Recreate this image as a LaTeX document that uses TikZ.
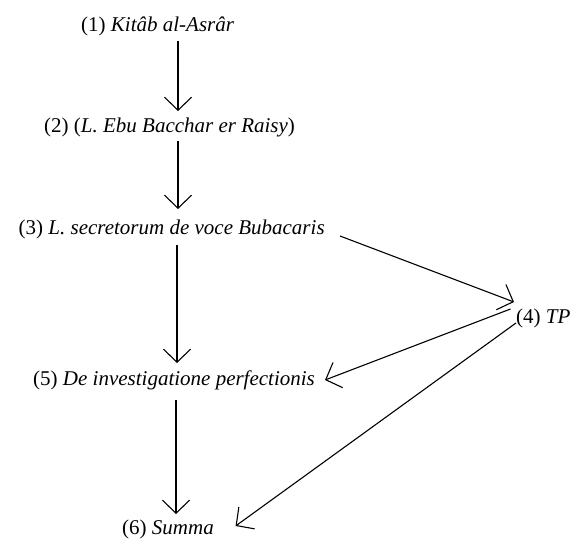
\documentclass[tikz,border=0pt]{standalone}
\usepackage{fontspec}
\setmainfont{Liberation Serif}
\usetikzlibrary{arrows.meta}
\begin{document}
\begin{tikzpicture}[x=1pt,y=-1pt,
  lbl/.style={inner sep=0pt, anchor=west, font=\fontsize{21}{24}\selectfont},
  arr/.style={line width=1.1pt, -{Straight Barb[length=13pt,width=27pt,line width=1.1pt]}}]
\useasboundingbox (0,0) rectangle (581,540);
\node[lbl] (n1) at (81,26) {(1) \textit{Kitâb al-Asrâr}};
\node[lbl] (n2) at (44,127) {(2) (\textit{L. Ebu Bacchar er Raisy})};
\node[lbl] (n3) at (18.5,229) {(3) \textit{L. secretorum de voce Bubacaris}};
\node[lbl] (n4) at (516,318.6) {(4) \textit{TP}};
\node[lbl] (n5) at (33,380.6) {(5) \textit{De investigatione perfectionis}};
\node[lbl] (n6) at (122,529) {(6) \textit{Summa}};
\coordinate (a1s) at (178,41);
\coordinate (a1e) at (178,111);
\coordinate (a2s) at (178,141);
\coordinate (a2e) at (178,209);
\coordinate (a3s) at (177,245);
\coordinate (a3e) at (177,363);
\coordinate (a5s) at (176,399.5);
\coordinate (a5e) at (176,514);
\coordinate (b3) at (340,236);
\coordinate (b4) at (514,302);
\coordinate (c4) at (510.5,309);
\coordinate (c5) at (325,380);
\coordinate (d4) at (516,323);
\coordinate (d6) at (235.6,526);
\draw[arr] (a1s) -- (a1e);
\draw[arr] (a2s) -- (a2e);
\draw[arr] (a3s) -- (a3e);
\draw[arr] (a5s) -- (a5e);
\draw[arr] (b3) -- (b4);
\draw[arr] (c4) -- (c5);
\draw[arr] (d4) -- (d6);
\end{tikzpicture}
\end{document}
